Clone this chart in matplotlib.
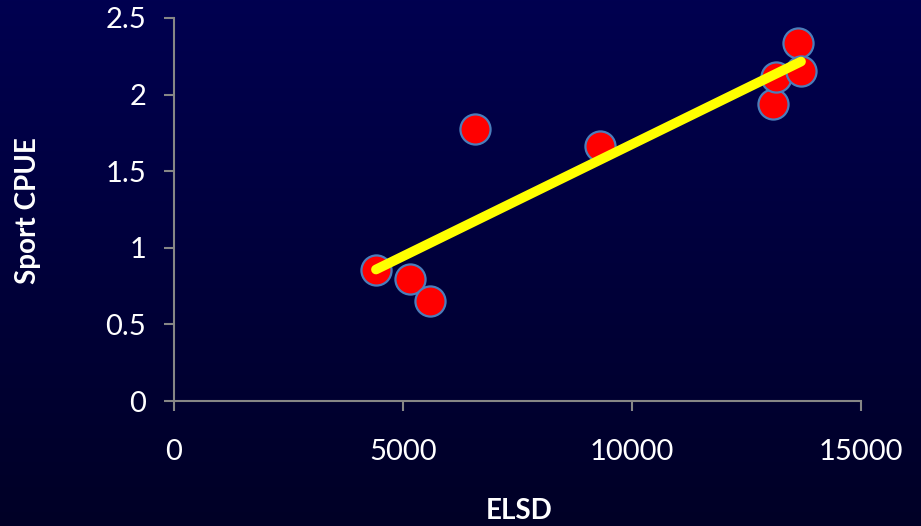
import numpy as np
import matplotlib
matplotlib.use("Agg")
import matplotlib.pyplot as plt

# Data
elsd = [4410, 5153, 5590, 6572, 9301, 13079, 13144, 13624, 13690]
sport_cpue = [0.855, 0.796, 0.653, 1.775, 1.664, 1.94, 2.115, 2.337, 2.154]
x_ticks = [0, 5000, 10000, 15000]
y_ticks = [0, 0.5, 1, 1.5, 2, 2.5]
y_tick_labels = ["0", "0.5", "1", "1.5", "2", "2.5"]
x_label = "ELSD"
y_label = "Sport CPUE"

plt.rcParams['font.family'] = ['Lato', 'DejaVu Sans']

fig = plt.figure(figsize=(9.21, 5.26), dpi=100)

# Background gradient
bg = fig.add_axes([0, 0, 1, 1], zorder=-10)
top = np.array([0, 0, 80]) / 255
bot = np.array([0, 0, 38]) / 255
t = np.linspace(0, 1, 256)[:, None]
grad = top[None, :] * (1 - t) + bot[None, :] * t
bg.imshow(grad[:, None, :].repeat(2, axis=1), aspect='auto', extent=[0, 1, 0, 1])
bg.axis('off')

ax = fig.add_axes([174/921, 1 - 401/526, (861-174)/921, (401-18)/526])
ax.patch.set_alpha(0)

ax.scatter(elsd, sport_cpue, s=470, c='#ff0000', edgecolors='#4a7ebb', linewidths=1.6, zorder=3)

# Linear trendline
xs = np.array(elsd, dtype=float)
ys = np.array(sport_cpue, dtype=float)
m, b = np.polyfit(xs, ys, 1)
xl = np.array([xs.min(), xs.max()])
ax.plot(xl, m * xl + b, color='#ffff00', lw=7, solid_capstyle='round', zorder=4)

ax.set_xlim(0, 15000)
ax.set_ylim(0, 2.5)
ax.set_xticks(x_ticks)
ax.set_xticklabels([str(v) for v in x_ticks])
ax.set_yticks(y_ticks)
ax.set_yticklabels(y_tick_labels)

for s in ['top', 'right']:
    ax.spines[s].set_visible(False)
for s in ['left', 'bottom']:
    ax.spines[s].set_color('#868686')
    ax.spines[s].set_linewidth(1.5)

ax.tick_params(axis='x', direction='out', length=7, width=1.5, color='#868686',
               labelcolor='white', labelsize=21, pad=20)
ax.tick_params(axis='y', direction='out', length=7, width=1.5, color='#868686',
               labelcolor='white', labelsize=21, pad=13)

fig.text(28/921, 1 - 211/526, y_label, rotation=90, ha='center', va='center',
         color='white', fontsize=20, fontweight='bold')
fig.text(519/921, 1 - 511/526, x_label, ha='center', va='center',
         color='white', fontsize=20, fontweight='bold')

fig.savefig('out.png', dpi=100)
